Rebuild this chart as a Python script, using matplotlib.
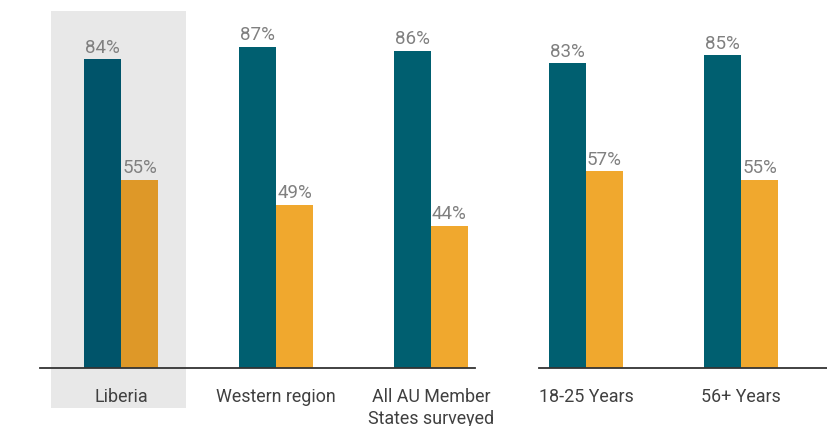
import matplotlib
matplotlib.use("Agg")
import matplotlib.pyplot as plt
from matplotlib.patches import Rectangle
import numpy as np

categories = ["Liberia", "Western region", "All AU Member\nStates surveyed", "18-25 Years", "56+ Years"]
series_a = [84, 87, 86, 83, 85]
series_b = [55, 49, 44, 57, 55]

teal = ["#00546a", "#005f70", "#005f70", "#005f70", "#005f70"]
orange = ["#de9828", "#f0a82e", "#f0a82e", "#f0a82e", "#f0a82e"]

plt.rcParams['font.family'] = ['Roboto', 'DejaVu Sans']

W, H = 827, 426
fig = plt.figure(figsize=(W / 100, H / 100), dpi=100)
base_px = 368
ax = fig.add_axes([0, (H - base_px) / H, 1, base_px / H])

px_per_unit = 155.0
c0 = 121.0
ppv = 4.163  # pixels per percent
xmin = (0 - c0) / px_per_unit
xmax = (W - c0) / px_per_unit
ax.set_xlim(xmin, xmax)
ymin, ymax = 9.78, 9.78 + base_px / ppv
ax.set_ylim(ymin, ymax)
ax.axis("off")

x = np.arange(len(categories))
bw = 37 / px_per_unit

# highlight
rect_bottom = ymin - 40 / ppv
rect_top = ymin + 357 / ppv
ax.add_patch(Rectangle((-0.452, rect_bottom), 0.871, rect_top - rect_bottom,
                       facecolor="#e8e8e8", edgecolor="none", zorder=0, clip_on=False))

ax.bar(x - bw / 2, [v - ymin for v in series_a], bw, bottom=ymin, color=teal, zorder=2)
ax.bar(x + bw / 2, [v - ymin for v in series_b], bw, bottom=ymin, color=orange, zorder=2)

for xi, a, b in zip(x, series_a, series_b):
    for xx, v in ((xi - bw / 2, a), (xi + bw / 2, b)):
        ax.annotate(f"{v}%", (xx, v), xytext=(0, 4.5), textcoords="offset points",
                    ha="center", va="baseline", fontsize=13.5, color="#808080", zorder=3)

# baselines
ax.plot([(40 - c0) / px_per_unit, (475 - c0) / px_per_unit], [ymin, ymin], color="#333333", lw=1.3, zorder=4, clip_on=False)
ax.plot([(539 - c0) / px_per_unit, xmax], [ymin, ymin], color="#333333", lw=1.3, zorder=4, clip_on=False)

for xi, lab in zip(x, categories):
    ax.text(xi, ymin - 20 / ppv, lab, ha="center", va="top", fontsize=12.9, color="#404040",
            linespacing=1.3, clip_on=False)

fig.savefig("out.png", dpi=100)
